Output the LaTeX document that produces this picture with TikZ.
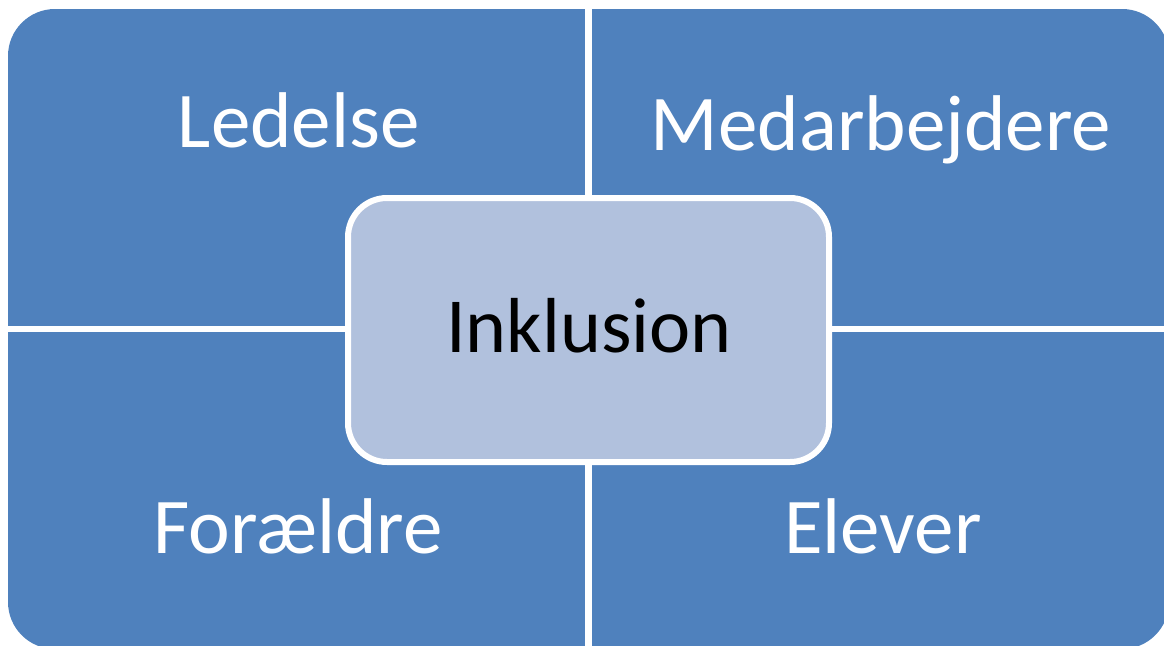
\documentclass[tikz,border=0pt]{standalone}
\usepackage{fontspec}
\setmainfont{Carlito}
\definecolor{quadblue}{RGB}{79,129,189}
\definecolor{centerblue}{RGB}{177,193,221}
\begin{document}
\begin{tikzpicture}[x=1pt,y=-1pt,
  quadfill/.style={fill=quadblue},
  divider/.style={draw=white,line width=6.5pt},
  lbl/.style={text=white,font=\fontsize{79}{79}\selectfont,anchor=base,inner sep=0pt},
  centerbox/.style={draw=white,line width=6pt,fill=centerblue,rounded corners=39pt,
    minimum width=481pt,minimum height=264pt,inner sep=0pt}]
\useasboundingbox (0,0) rectangle (1164,645);
\begin{scope}
  \clip (0,0) rectangle (1164,645);
  \fill[quadfill,rounded corners=47pt] (8,9) rectangle (1169,649);
  \coordinate (vtop) at (588.5,0);
  \coordinate (vbot) at (588.5,660);
  \coordinate (hleft) at (0,329);
  \coordinate (hright) at (1180,329);
  \draw[divider] (vtop) -- (vbot);
  \draw[divider] (hleft) -- (hright);
\end{scope}
\node[centerbox] (inklusion) at (588.5,330) {};
\node[font=\fontsize{78}{78}\selectfont,text=black,anchor=base,inner sep=0pt] (inktext) at (589,352) {Inklusion};
\node[lbl] (ledelse) at (298.7,147) {Ledelse};
\node[lbl] (medarbejdere) at (881,150) {Medarbejdere};
\node[lbl] (foraeldre) at (298,553) {Forældre};
\node[lbl] (elever) at (883,553) {Elever};
\end{tikzpicture}
\end{document}
